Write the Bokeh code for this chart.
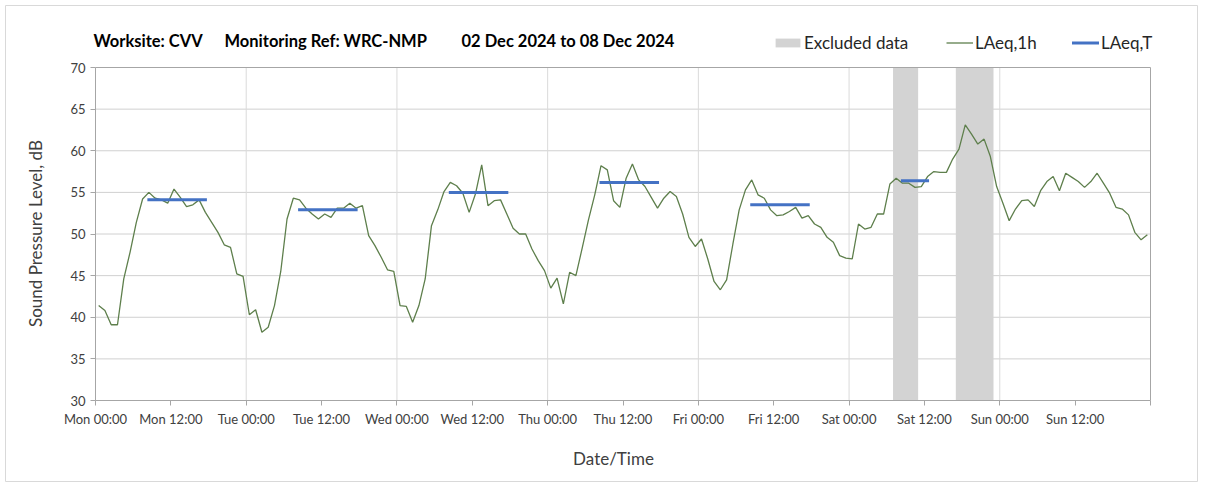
import math
from bokeh.plotting import figure
from bokeh.models import Range1d, FixedTicker, Label, Legend, LegendItem, ColumnDataSource
from bokeh.embed import file_html
from bokeh.resources import INLINE

# ---------------- data ----------------
days = ["Mon", "Tue", "Wed", "Thu", "Fri", "Sat", "Sun"]
tick_hours = list(range(0, 169, 12))
tick_labels = [f"{d} {t}" for d in days for t in ("00:00", "12:00")] + [""]
day_hours = list(range(0, 169, 24))
y_ticks = [30, 35, 40, 45, 50, 55, 60, 65, 70]

# hourly LAeq,1h values, Mon 00:00 .. Sun 23:00
laeq_1h = [
    # Mon
    41.4, 40.8, 39.1, 39.1, 44.6, 47.8, 51.4, 54.2, 55.0, 54.3, 54.1, 53.7,
    55.4, 54.4, 53.3, 53.5, 54.1, 52.6, 51.4, 50.2, 48.7, 48.4, 45.2, 44.9,
    # Tue
    40.3, 40.9, 38.2, 38.8, 41.4, 45.5, 51.8, 54.3, 54.1, 53.1, 52.4, 51.8,
    52.4, 52.0, 53.1, 53.1, 53.7, 53.1, 53.4, 49.8, 48.6, 47.2, 45.7, 45.5,
    # Wed
    41.4, 41.3, 39.4, 41.4, 44.6, 51.0, 52.9, 55.1, 56.2, 55.8, 54.9, 52.6,
    54.8, 58.3, 53.4, 54.0, 54.1, 52.4, 50.7, 50.0, 50.0, 48.2, 46.8, 45.6,
    # Thu
    43.5, 44.7, 41.6, 45.4, 45.0, 48.3, 51.7, 54.7, 58.2, 57.7, 54.0, 53.2,
    56.7, 58.4, 56.5, 55.7, 54.4, 53.1, 54.3, 55.1, 54.5, 52.4, 49.6, 48.5,
    # Fri
    49.4, 47.0, 44.3, 43.3, 44.5, 48.8, 52.9, 55.3, 56.5, 54.7, 54.3, 52.9,
    52.2, 52.3, 52.7, 53.2, 51.9, 52.2, 51.2, 50.8, 49.6, 49.0, 47.4, 47.1,
    # Sat
    47.0, 51.2, 50.6, 50.8, 52.4, 52.4, 56.0, 56.7, 56.1, 56.1, 55.6, 55.7,
    56.9, 57.5, 57.4, 57.4, 59.0, 60.2, 63.1, 62.0, 60.8, 61.4, 59.3, 55.7,
    # Sun
    53.7, 51.6, 53.0, 54.0, 54.1, 53.3, 55.2, 56.3, 56.9, 55.2, 57.3, 56.8,
    56.3, 55.6, 56.3, 57.3, 56.1, 54.9, 53.2, 53.0, 52.3, 50.2, 49.3, 49.9,
]
hour_mid = [i + 0.5 for i in range(len(laeq_1h))]

# LAeq,T over the working periods (hours from Mon 00:00)
period_start = [8.5, 32.5, 56.5, 80.5, 104.5, 128.5]
period_end = [17.5, 41.5, 65.5, 89.5, 113.5, 132.5]
laeq_t = [54.1, 52.9, 55.0, 56.2, 53.5, 56.4]

# excluded data periods (hours from Mon 00:00)
excl_start = [127, 137]
excl_end = [131, 143]

title_parts = ["Worksite: CVV", "Monitoring Ref: WRC-NMP", "02 Dec 2024 to 08 Dec 2024"]
x_title = "Date/Time"
y_title = "Sound Pressure Level, dB"

# ---------------- style / layout ----------------
FONT = "Lato"
GREEN = "#5E7F4C"
BLUE = "#4472C4"
GREY_BAND = "#D3D3D3"
AXIS = "#A6A6A6"
GRID_H = "#D0D0D0"
GRID_V = "#DADADA"
TEXT = "#404040"

W, H = 1200, 482
# chart-area (frame) edges in canvas px; it carries a thin border like the source
F_L, F_R, F_T, F_B = 5, 1197, 5, 481
# plot-area edges in canvas px
P_L, P_R, P_T, P_B = 95, 1150, 67, 400
x0, x1 = tick_hours[0], tick_hours[-1]
y0, y1 = y_ticks[0], y_ticks[-1]
sx = (P_R - P_L) / (x1 - x0)
sy = (P_B - P_T) / (y1 - y0)
x_range = Range1d(x0 - (P_L - F_L) / sx, x1 + (F_R - P_R) / sx)
y_range = Range1d(y0 - (F_B - P_B) / sy, y1 + (P_T - F_T) / sy)


def scr(xi, yi):
    """canvas px (from top-left) -> frame screen units (from bottom-left)"""
    return xi - F_L, F_B - yi


p = figure(width=W, height=H, x_range=x_range, y_range=y_range,
           output_backend="svg", toolbar_location=None, title_location=None,
           min_border_left=F_L, min_border_right=W - F_R,
           min_border_top=F_T, min_border_bottom=H - F_B)
p.outline_line_color = "#D9D9D9"
p.outline_line_width = 1
p.background_fill_color = "white"
p.border_fill_color = "white"
p.xgrid.visible = False
p.ygrid.visible = False

# gridlines (inside the plot area)
inner_y = y_ticks[1:-1]
p.segment(x0=[x0] * len(inner_y), x1=[x1] * len(inner_y), y0=inner_y, y1=inner_y,
          line_color=GRID_H, line_width=1)
inner_d = day_hours[1:-1]
p.segment(x0=inner_d, x1=inner_d, y0=[y0] * len(inner_d), y1=[y1] * len(inner_d),
          line_color=GRID_V, line_width=1)

band_src = ColumnDataSource(dict(left=excl_start, right=excl_end,
                                 bottom=[y0] * len(excl_start), top=[y1] * len(excl_start)))
r_band = p.quad(left="left", right="right", bottom="bottom", top="top", source=band_src,
                fill_color=GREY_BAND, line_color=None)

# plot-area outline (top and right)
p.segment(x0=[x0, x1], x1=[x1, x1], y0=[y1, y0], y1=[y1, y1], line_color=AXIS, line_width=1)

r_line = p.line(hour_mid, laeq_1h, line_color=GREEN, line_width=1.3)

seg_src = ColumnDataSource(dict(x0=period_start, x1=period_end, y0=laeq_t, y1=laeq_t))
r_seg = p.segment(x0="x0", x1="x1", y0="y0", y1="y1", source=seg_src,
                  line_color=BLUE, line_width=3, line_cap="square")

# axes, pinned to the plot-area edges
p.xaxis.fixed_location = y0
p.yaxis.fixed_location = x0
p.xaxis.ticker = FixedTicker(ticks=tick_hours)
p.xaxis.major_label_overrides = {h: lab for h, lab in zip(tick_hours, tick_labels)}
p.xaxis.bounds = (x0, x1)
p.yaxis.ticker = FixedTicker(ticks=y_ticks)
p.yaxis.bounds = (y0, y1)
for ax in (p.xaxis[0], p.yaxis[0]):
    ax.axis_line_color = AXIS
    ax.major_tick_line_color = AXIS
    ax.minor_tick_line_color = None
    ax.major_tick_in = 0
    ax.major_tick_out = 5
    ax.major_label_text_font = FONT
    ax.major_label_text_color = TEXT
    ax.major_label_text_font_size = "13px"
    ax.major_label_standoff = 5

# axis titles
lx, ly = scr(613, 458)
p.add_layout(Label(x=lx, y=ly, x_units="screen", y_units="screen", text=x_title,
                   text_font=FONT, text_font_size="17px", text_color=TEXT,
                   text_align="center", text_baseline="middle"))
lx, ly = scr(35, 233)
p.add_layout(Label(x=lx, y=ly, x_units="screen", y_units="screen", text=y_title,
                   angle=math.pi / 2, text_font=FONT, text_font_size="17px", text_color=TEXT,
                   text_align="center", text_baseline="middle"))

# chart title pieces
for txt, tx in zip(title_parts, [93, 224, 461]):
    lx, ly = scr(tx, 40)
    p.add_layout(Label(x=lx, y=ly, x_units="screen", y_units="screen", text=txt,
                       text_font=FONT, text_font_style="bold", text_font_size="16.5px",
                       text_color="black", text_baseline="middle"))


# legends (one per entry so each sits where the source has it)
def make_legend(label, rend, xi, gw, gh, standoff):
    lx, ly = scr(xi, 53)
    lg = Legend(items=[LegendItem(label=label, renderers=[rend])], location=(lx, ly),
                orientation="horizontal", glyph_width=gw, glyph_height=gh,
                label_standoff=standoff, padding=0, margin=0, spacing=0,
                border_line_color=None, background_fill_alpha=0,
                label_text_font=FONT, label_text_font_size="17px", label_text_color="#262626",
                label_height=20)
    p.add_layout(lg, "center")


make_legend("Excluded data", r_band, 772, 31, 11, 1)
make_legend("LAeq,1h", r_line, 946, 27, 11, 2)
make_legend("LAeq,T", r_seg, 1072, 27, 11, 2)

open("out.html", "w").write(file_html(p, INLINE))
